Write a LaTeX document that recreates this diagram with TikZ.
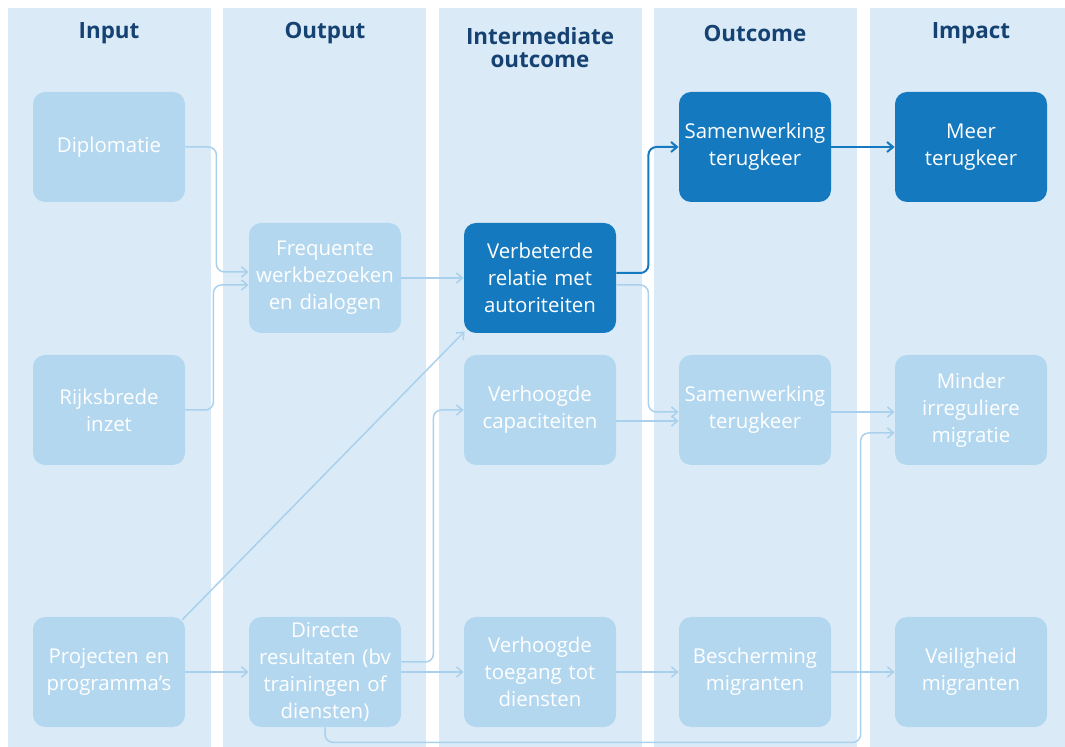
\documentclass[tikz,border=0pt]{standalone}
\usepackage{fontspec}
\setmainfont{Open Sans}
\usetikzlibrary{calc,arrows.meta}
\definecolor{colbg}{HTML}{DAEBF7}
\definecolor{boxlite}{HTML}{B3D7EF}
\definecolor{boxdark}{HTML}{1579BF}
\definecolor{headblue}{HTML}{154273}
\definecolor{linelite}{HTML}{A9D1EE}
\tikzset{
	stage/.style={rectangle, rounded corners=6pt, minimum width=76pt, minimum height=55pt,
		text width=76pt, align=center, text=white, inner sep=0pt,
		font=\fontsize{10.2}{13.5}\selectfont},
	litebox/.style={stage, fill=boxlite},
	darkbox/.style={stage, fill=boxdark},
	colhead/.style={text=headblue, align=center, font=\bfseries\fontsize{11.2}{11.5}\selectfont},
	litelink/.style={draw=linelite, line width=0.75pt, rounded corners=4pt,
		-{Straight Barb[length=3pt,width=5pt]}},
	darklink/.style={litelink, draw=boxdark, line width=1pt},
}

\begin{document}
\begin{tikzpicture}[x=0.5pt,y=-0.5pt]
				\useasboundingbox (0,0) rectangle (1065,747);
				
				% columns
				\foreach \xl/\xr in {8/211,223/426,439/642,654/857,870/1065}
					\fill[colbg] (\xl,8) rectangle (\xr,747);
				
				\node[colhead] (hInput) at (109,33) {Input};
				\node[colhead] (hOutput) at (325,33) {Output};
				\node[colhead] (hInter) at (540,48) {Intermediate\\outcome};
				\node[colhead] (hOutcome) at (755,33) {Outcome};
				\node[colhead] (hImpact) at (971,33) {Impact};
				
				% input
				\node[litebox] (dipl) at (109,147) {Diplomatie};
				\node[litebox] (rijks) at (109,410) {Rijksbrede\\inzet};
				\node[litebox] (proj) at (109,672) {Projecten en\\programma’s};
				
				% output
				\node[litebox] (freq) at (325,278) {Frequente\\werkbezoeken\\en dialogen};
				\node[litebox] (dir) at (325,672) {Directe\\resultaten (bv\\trainingen of\\diensten)};
				
				% intermediate outcome
				\node[darkbox] (verb) at (540,278) {Verbeterde\\relatie met\\autoriteiten};
				\node[litebox] (capa) at (540,410) {Verhoogde\\capaciteiten};
				\node[litebox] (toeg) at (540,672) {Verhoogde\\toegang tot\\diensten};
				
				% outcome
				\node[darkbox] (samA) at (755,147) {Samenwerking\\terugkeer};
				\node[litebox] (samB) at (755,410) {Samenwerking\\terugkeer};
				\node[litebox] (besch) at (755,672) {Bescherming\\migranten};
				
				% impact
				\node[darkbox] (meer) at (971,147) {Meer\\terugkeer};
				\node[litebox] (mind) at (971,410) {Minder\\irreguliere\\migratie};
				\node[litebox] (veil) at (971,672) {Veiligheid\\migranten};
				
				% links
				\draw[litelink] (dipl.east) -- ++(31,0) |- ($(freq.west)+(0,-6)$);
				\draw[litelink] (rijks.east) -- ++(28,0) |- ($(freq.west)+(0,7)$);
				\draw[litelink] (freq.east) -- (verb.west);
				\draw[litelink] ($(proj.north east)+(-3,3)$) -- ($(verb.south west)+(1,-2)$);
				\draw[litelink] (proj.east) -- (dir.west);
				\draw[litelink] ($(dir.east)+(0,-10)$) -- ++(32,0) |- (capa.west);
				\draw[litelink] (dir.east) -- (toeg.west);
				\draw[litelink] (toeg.east) -- (besch.west);
				\draw[litelink] (besch.east) -- (veil.west);
				\draw[litelink] (dir.south) -- ++(0,15) -| ($(mind.west)+(-34,23)$) -- ++(34,0);
				\draw[darklink] ($(verb.east)+(0,-5)$) -- ++(32,0) |- (samA.west);
				\draw[litelink] ($(verb.east)+(0,7)$) -- ++(32,0) |- ($(samB.west)+(0,2)$);
				\draw[litelink] ($(capa.east)+(0,11)$) -- ($(samB.west)+(0,11)$);
				\draw[litelink] ($(samB.east)+(0,2)$) -- ($(mind.west)+(0,2)$);
				\draw[darklink] (samA.east) -- (meer.west);
\end{tikzpicture}
\end{document}
